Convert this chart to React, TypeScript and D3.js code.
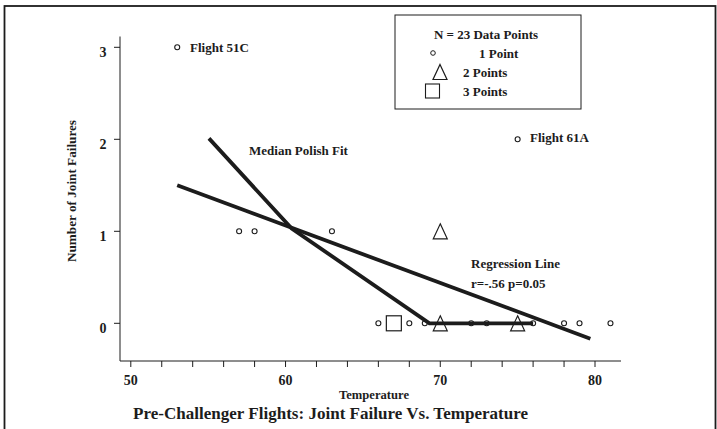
import React from "react";
import * as d3 from "d3";

// ---- data ----
const circleTemps = [53, 75, 57, 58, 63, 66, 68, 69, 72, 73, 76, 78, 79, 81];
const circleFails = [3, 2, 1, 1, 1, 0, 0, 0, 0, 0, 0, 0, 0, 0];
const triangleTemps = [70, 70, 75];
const triangleFails = [1, 0, 0];
const squareTemps = [67];
const squareFails = [0];
const medianTemps = [55.05, 60.4, 69.3, 76];
const medianFails = [2.01, 1.03, 0, 0];
const regressionTemps = [53, 79.7];
const regressionFails = [1.5, -0.167];
const xTickValues = [50, 52, 54, 56, 58, 60, 62, 64, 66, 68, 70, 72, 74, 76, 78, 80];
const xTickLabels = [50, 60, 70, 80];
const yTickValues = [0, 1, 2, 3];
const legendLabels = ["N = 23 Data Points", "1 Point", "2 Points", "3 Points"];

const FONT = "'Liberation Serif', 'Times New Roman', serif";
const INK = "#1c1c1c";

// triangle outline, 14 wide and 15 tall, centred on its point
const triPath = (cx: number, cy: number) => {
  const p = d3.path();
  p.moveTo(cx, cy - 7.5);
  p.lineTo(cx + 7, cy + 7.5);
  p.lineTo(cx - 7, cy + 7.5);
  p.closePath();
  return p.toString();
};

export default function App() {
  const x = d3.scaleLinear().domain([50, 80]).range([130.8, 595]);
  const y = d3.scaleLinear().domain([0, 3]).range([323.3, 47.3]);
  const axisX = 120;
  const axisY = 361;

  const line = d3
    .line<[number, number]>()
    .x((d) => x(d[0]))
    .y((d) => y(d[1]));

  const medianPts: [number, number][] = medianTemps.map((t, i) => [t, medianFails[i]]);
  const regPts: [number, number][] = regressionTemps.map((t, i) => [t, regressionFails[i]]);

  return (
    <svg
      width={717}
      height={429}
      style={{ position: "absolute", left: 0, top: 0, background: "#fff" }}
      fontFamily={FONT}
    >
      <rect x={0} y={0} width={717} height={429} fill="#fff" />
      {/* outer frame */}
      <rect x={4.5} y={6} width={711} height={440} fill="none" stroke={INK} strokeWidth={1.8} />

      {/* axes */}
      <line x1={axisX} y1={36.5} x2={axisX} y2={axisY} stroke={INK} strokeWidth={1} />
      <line x1={axisX} y1={axisY} x2={621} y2={axisY} stroke={INK} strokeWidth={1} />
      {yTickValues.map((v) => (
        <g key={"yt" + v}>
          <line x1={axisX - 6} x2={axisX} y1={y(v)} y2={y(v)} stroke={INK} strokeWidth={1} />
          <text
            x={103}
            y={y(v) + 5.5}
            textAnchor="middle"
            dominantBaseline="central"
            fontSize={14}
            fontWeight="bold"
            fill={INK}
          >
            {v}
          </text>
        </g>
      ))}
      {xTickValues.map((v) => (
        <line key={"xt" + v} x1={x(v)} x2={x(v)} y1={axisY} y2={axisY + 6} stroke={INK} strokeWidth={1} />
      ))}
      {xTickLabels.map((v) => (
        <text
          key={"xl" + v}
          x={x(v)}
          y={380}
          textAnchor="middle"
          dominantBaseline="central"
          fontSize={14}
          fontWeight="bold"
          fill={INK}
        >
          {v}
        </text>
      ))}

      {/* axis titles */}
      <text
        x={374}
        y={395}
        textAnchor="middle"
        dominantBaseline="central"
        fontSize={12}
        fontWeight="bold"
        fill={INK}
        textLength={70}
        lengthAdjust="spacingAndGlyphs"
      >
        Temperature
      </text>
      <text
        transform={`translate(71,191) rotate(-90)`}
        textAnchor="middle"
        dominantBaseline="central"
        fontSize={13}
        fontWeight="bold"
        fill={INK}
        textLength={142}
        lengthAdjust="spacingAndGlyphs"
      >
        Number of Joint Failures
      </text>
      <text
        x={133}
        y={413}
        dominantBaseline="central"
        fontSize={16.5}
        fontWeight="bold"
        fill={INK}
        textLength={395}
        lengthAdjust="spacingAndGlyphs"
      >
        Pre-Challenger Flights: Joint Failure Vs. Temperature
      </text>

      {/* data markers */}
      {circleTemps.map((t, i) => (
        <circle
          key={"c" + i}
          cx={x(t)}
          cy={y(circleFails[i])}
          r={2.5}
          fill="#fff"
          stroke={INK}
          strokeWidth={1.1}
        />
      ))}
      {squareTemps.map((t, i) => (
        <rect
          key={"s" + i}
          x={x(t) - 7.5}
          y={y(squareFails[i]) - 7.5}
          width={15}
          height={15}
          fill="#fff"
          stroke={INK}
          strokeWidth={1.2}
        />
      ))}

      {/* fitted lines */}
      <path d={line(regPts) || ""} fill="none" stroke={INK} strokeWidth={3.8} strokeLinecap="butt" />
      <path d={line(medianPts) || ""} fill="none" stroke={INK} strokeWidth={3.8} strokeLinejoin="miter" />

      {triangleTemps.map((t, i) => (
        <path
          key={"t" + i}
          d={triPath(x(t), y(triangleFails[i]))}
          fill="none"
          stroke={INK}
          strokeWidth={1.2}
        />
      ))}

      {/* annotations */}
      <text x={190} y={47} dominantBaseline="central" fontSize={13} fontWeight="bold" fill={INK}>
        Flight 51C
      </text>
      <text x={530} y={137} dominantBaseline="central" fontSize={13} fontWeight="bold" fill={INK}>
        Flight 61A
      </text>
      <text x={249} y={150} dominantBaseline="central" fontSize={13} fontWeight="bold" fill={INK}>
        Median Polish Fit
      </text>
      <text x={471} y={263} dominantBaseline="central" fontSize={13} fontWeight="bold" fill={INK}>
        Regression Line
      </text>
      <text x={471} y={283} dominantBaseline="central" fontSize={13} fontWeight="bold" fill={INK}>
        r=-.56 p=0.05
      </text>

      {/* legend */}
      <rect x={395} y={15} width={186} height={94} fill="#fff" stroke={INK} strokeWidth={1} />
      <text x={486} y={34} textAnchor="middle" dominantBaseline="central" fontSize={13} fontWeight="bold" fill={INK}>
        {legendLabels[0]}
      </text>
      <circle cx={433} cy={53} r={2.3} fill="#fff" stroke={INK} strokeWidth={1} />
      <text x={479} y={53} dominantBaseline="central" fontSize={13} fontWeight="bold" fill={INK}>
        {legendLabels[1]}
      </text>
      <path d={triPath(440, 72)} fill="none" stroke={INK} strokeWidth={1.2} />
      <text x={463} y={72} dominantBaseline="central" fontSize={13} fontWeight="bold" fill={INK}>
        {legendLabels[2]}
      </text>
      <rect x={425.5} y={84} width={14} height={14} fill="#fff" stroke={INK} strokeWidth={1.1} />
      <text x={463} y={91} dominantBaseline="central" fontSize={13} fontWeight="bold" fill={INK}>
        {legendLabels[3]}
      </text>
    </svg>
  );
}
